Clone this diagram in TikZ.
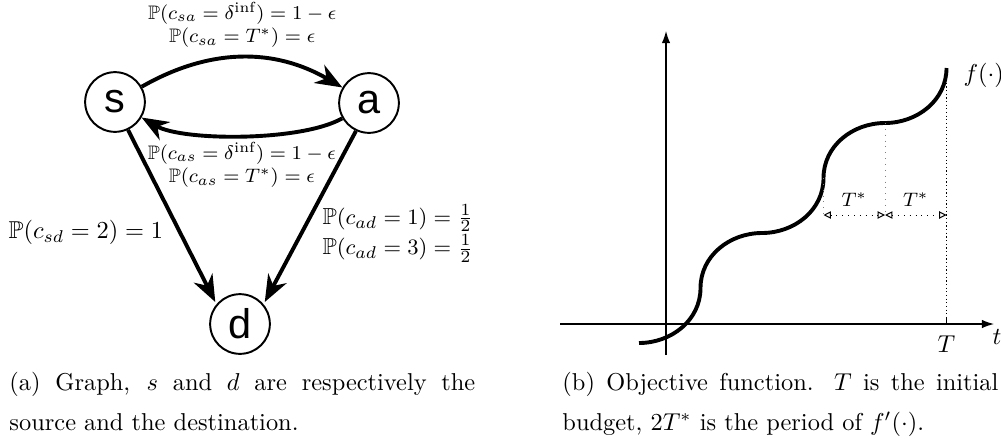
\documentclass[tikz,border=0pt]{standalone}
\usepackage{amssymb}
\usepackage{fontspec}
\newfontfamily\vertexfont{Liberation Sans}
\usetikzlibrary{arrows.meta}

\tikzset{
  vertex/.style={draw, circle, line width=0.8pt, minimum size=0.86cm, inner sep=0pt,
    font=\vertexfont\fontsize{17}{17}\selectfont},
  edge/.style={line width=1.6pt, -{Stealth[length=11pt,width=8.5pt,inset=3.5pt]}},
  axis/.style={line width=0.5pt, -{Latex[length=5pt,width=3.5pt]}},
  dimline/.style={dotted, line width=0.4pt,
    {Triangle[open,length=3pt,width=3pt]}-{Triangle[open,length=3pt,width=3pt]}},
  subcap/.style={anchor=base west, inner sep=0pt, align=justify,
    font=\fontsize{10}{16.4}\selectfont},
}

\begin{document}
\begin{tikzpicture}[x=0.0144cm, y=0.0144cm]
        \useasboundingbox (0,0) rectangle (1001,438);

        % graph: nodes s, a and d
        \node[vertex] (s) at (115,336) {s};
        \node[vertex] (a) at (369,335) {a};
        \node[vertex] (d) at (240,114) {d};

        % edges between s and a
        \draw[edge] (s) to[bend left=30]
            node[above, align=center, font=\footnotesize]
            {$\mathbb{P}(c_{sa}=\delta^{\mathrm{inf}})=1-\epsilon$\\ $\mathbb{P}(c_{sa}=T^*)=\epsilon$} (a);
        \draw[edge] (a) to[bend left=30, looseness=0.6]
            node[below, yshift=0.5mm, align=center, font=\footnotesize]
            {$\mathbb{P}(c_{as}=\delta^{\mathrm{inf}})=1-\epsilon$\\ $\mathbb{P}(c_{as}=T^*)=\epsilon$} (s);

        % edges into d
        \draw[edge, shorten >=1pt] (s.-65) -- node[pos=0.59, left, xshift=-1mm] {$\mathbb{P}(c_{sd}=2)=1$} (d.140);
        \draw[edge, shorten >=1pt] (a.-115) -- node[pos=0.59, right, xshift=1.6mm, align=left,
            font=\fontsize{9.5}{12.5}\selectfont]
            {$\mathbb{P}(c_{ad}=1)=\frac{1}{2}$\\ $\mathbb{P}(c_{ad}=3)=\frac{1}{2}$} (d.40);

        % axes of the objective function
        \draw[axis] (560,114) -- (994,114);
        \draw[axis] (666,83) -- (666,407);
        \node (t) at (997,101) {$t$};
        \draw[line width=0.5pt] (946.5,114) -- (946.5,121);
        \node (T) at (946.5,94) {$T$};

        % f(.)
        \coordinate (p0) at (639,95);
        \coordinate (q1) at (823.5,260);
        \coordinate (p2) at (885,315);
        \coordinate (q2) at (946.5,370);
        \draw[line width=1.6pt] (p0) to[out=0,in=-90] (700.5,150) to[out=90,in=180] (762,205)
            to[out=0,in=-90] (q1) to[out=90,in=180] (p2) to[out=0,in=-90] (q2)
            node[right, xshift=1mm, yshift=-1mm] (f) {$f(\cdot)$};

        % period marks
        \coordinate (m1) at (823.5,223);
        \coordinate (m2) at (885,223);
        \coordinate (m3) at (946.5,223);
        \draw[densely dotted, line width=0.5pt] (q2) -- (946.5,114);
        \draw[dotted, gray] (q1) -- (m1);
        \draw[dotted, gray] (p2) -- (m2);
        \draw[dimline] (m1) -- node[above, font=\footnotesize] {$T^*$} (m2);
        \draw[dimline] (m2) -- node[above, font=\footnotesize] {$T^*$} (m3);

        % captions
        \node[subcap, text width=6.71cm] (capa) at (9,48)
            {(a) Graph, $s$ and $d$ are respectively the source and the destination.};
        \node[subcap, text width=6.28cm] (capb) at (562,48)
            {(b) Objective function. $T$ is the initial budget, $2T^*$ is the period of $f'(\cdot)$.};
\end{tikzpicture}
\end{document}
